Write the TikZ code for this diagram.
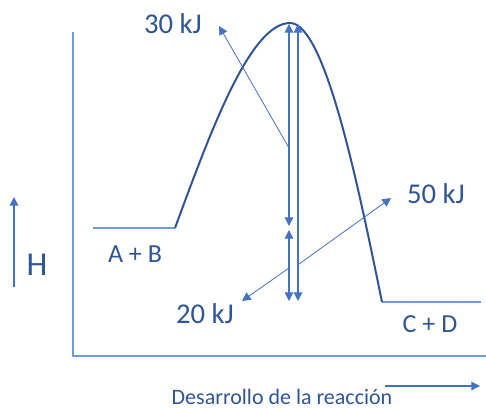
\documentclass[tikz,border=0pt]{standalone}
\usepackage{fontspec}
\setmainfont{Carlito}
\usetikzlibrary{arrows.meta}
\definecolor{axisblue}{HTML}{7098DC}
\definecolor{lineblue}{HTML}{4472C4}
\definecolor{curveblue}{HTML}{2F5597}
\definecolor{textblue}{HTML}{2F5597}

\begin{document}
\begin{tikzpicture}[
    x=0.75pt, y=-0.75pt,
    every node/.style={text=textblue, inner sep=0pt, anchor=base},
    big/.style={font=\fontsize{21.5}{25}\selectfont},
    mid/.style={font=\fontsize{19.5}{23}\selectfont},
    small/.style={font=\fontsize{16.5}{19}\selectfont},
    axis/.style={axisblue, line width=1pt},
    curve/.style={curveblue, line width=1.5pt},
    dbl/.style={{Triangle[width=6.5pt,length=6.5pt]}-{Triangle[width=6.5pt,length=6.5pt]}, lineblue, line width=0.8pt},
    ptr/.style={-{Triangle[width=6.5pt,length=6.5pt]}, lineblue, line width=0.6pt}
]
\useasboundingbox (0,0) rectangle (486,408);

% axes
\coordinate (ytop) at (73,32);
\coordinate (orig) at (73,356);
\coordinate (xend) at (486,356);
\draw[axis] (ytop) -- (orig) -- (xend);

% energy profile
\coordinate (ab1)  at (93,228);
\coordinate (ab2)  at (175,228);
\coordinate (peak) at (290,23);
\coordinate (cd1)  at (382,302);
\coordinate (cd2)  at (481,302);
\draw[axis] (ab1) -- (ab2);
\draw[axis] (cd1) -- (cd2);
\draw[curve] (ab2) .. controls (210,133) and (250,23) .. (peak)
                   .. controls (325,23) and (358,185) .. (cd1);

% energy differences
\coordinate (d1t) at (289,24);
\coordinate (d1b) at (289,226);
\coordinate (d2t) at (298,24);
\coordinate (d2b) at (298,301);
\coordinate (d3t) at (289,230);
\coordinate (d3b) at (289,301);
\draw[dbl] (d1t) -- (d1b);
\draw[dbl] (d2t) -- (d2b);
\draw[dbl] (d3t) -- (d3b);

% labels
\node[big] (lab30) at (173,33) {30 kJ};
\node[big] (lab50) at (436,203) {50 kJ};
\node[big] (lab20) at (205,323) {20 kJ};
\node[mid] (labab) at (135,262) {A + B};
\node[mid] (labcd) at (430,332) {C + D};
\node[font=\fontsize{25}{30}\selectfont] (labh) at (37,275) {H};
\node[small] (labx) at (282,404) {Desarrollo de la reacción};

% pointers
\coordinate (p30s) at (289,148);
\coordinate (p30t) at (219,26);
\coordinate (p50s) at (299,264);
\coordinate (p50t) at (391,198);
\coordinate (p20s) at (289,268);
\coordinate (p20t) at (242,301);
\draw[ptr] (p30s) -- (p30t);
\draw[ptr] (p50s) -- (p50t);
\draw[ptr] (p20s) -- (p20t);

% direction arrows
\coordinate (h1) at (14,287);
\coordinate (h2) at (14,197);
\coordinate (x1) at (385,386);
\coordinate (x2) at (480,386);
\draw[ptr, line width=0.8pt] (h1) -- (h2);
\draw[ptr, line width=0.8pt] (x1) -- (x2);
\end{tikzpicture}
\end{document}
